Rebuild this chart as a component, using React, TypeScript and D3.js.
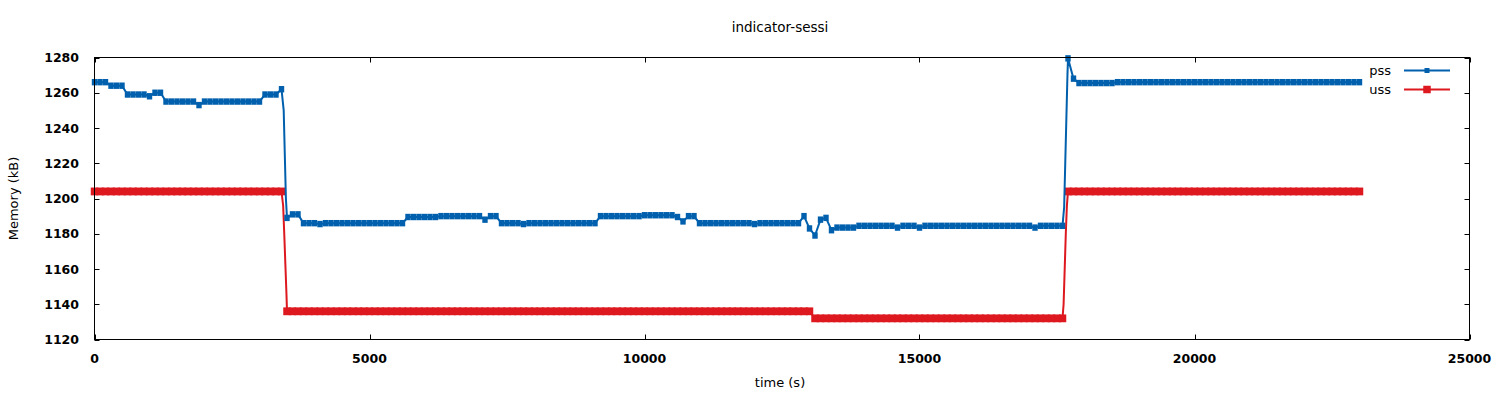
import React from "react";
import * as d3 from "d3";

// ---- data (sampled every 100 s) ----
const sampleStep = 100;
const pssValues: number[] = [
  1266, 1266, 1266, 1264, 1264, 1264, 1259, 1259, 1259, 1259,
  1258, 1260, 1260, 1255, 1255, 1255, 1255, 1255, 1255, 1253,
  1255, 1255, 1255, 1255, 1255, 1255, 1255, 1255, 1255, 1255,
  1255, 1259, 1259, 1259, 1262, 1189, 1191, 1191, 1186, 1186,
  1186, 1185.5, 1186, 1186, 1186, 1186, 1186, 1186, 1186, 1186,
  1186, 1186, 1186, 1186, 1186, 1186, 1186, 1189.5, 1189.5, 1189.5,
  1189.5, 1189.5, 1189.5, 1190, 1190, 1190, 1190, 1190, 1190, 1190,
  1190, 1188, 1190, 1190, 1186, 1186, 1186, 1186, 1185.5, 1186,
  1186, 1186, 1186, 1186, 1186, 1186, 1186, 1186, 1186, 1186,
  1186, 1186, 1190, 1190, 1190, 1190, 1190, 1190, 1190, 1190,
  1190.5, 1190.5, 1190.5, 1190.5, 1190.5, 1190.5, 1189.5, 1187, 1190, 1190,
  1186, 1186, 1186, 1186, 1186, 1186, 1186, 1186, 1186, 1186,
  1185.5, 1186, 1186, 1186, 1186, 1186, 1186, 1186, 1186, 1190,
  1183, 1179, 1188, 1189, 1182, 1183.5, 1183.5, 1183.5, 1183.5, 1184.5,
  1184.5, 1184.5, 1184.5, 1184.5, 1184.5, 1184.5, 1183.5, 1184.5, 1184.5, 1184.5,
  1183.5, 1184.5, 1184.5, 1184.5, 1184.5, 1184.5, 1184.5, 1184.5, 1184.5, 1184.5,
  1184.5, 1184.5, 1184.5, 1184.5, 1184.5, 1184.5, 1184.5, 1184.5, 1184.5, 1184.5,
  1184.5, 1183.5, 1184.5, 1184.5, 1184.5, 1184.5, 1184.5, 1279.5, 1268, 1265.5,
  1265.5, 1265.5, 1265.5, 1265.5, 1265.5, 1265.5, 1266, 1266, 1266, 1266,
  1266, 1266, 1266, 1266, 1266, 1266, 1266, 1266, 1266, 1266,
  1266, 1266, 1266, 1266, 1266, 1266, 1266, 1266, 1266, 1266,
  1266, 1266, 1266, 1266, 1266, 1266, 1266, 1266, 1266, 1266,
  1266, 1266, 1266, 1266, 1266, 1266, 1266, 1266, 1266, 1266,
  1266,
];
const ussValues: number[] = [
  1204, 1204, 1204, 1204, 1204, 1204, 1204, 1204, 1204, 1204,
  1204, 1204, 1204, 1204, 1204, 1204, 1204, 1204, 1204, 1204,
  1204, 1204, 1204, 1204, 1204, 1204, 1204, 1204, 1204, 1204,
  1204, 1204, 1204, 1204, 1204, 1136, 1136, 1136, 1136, 1136,
  1136, 1136, 1136, 1136, 1136, 1136, 1136, 1136, 1136, 1136,
  1136, 1136, 1136, 1136, 1136, 1136, 1136, 1136, 1136, 1136,
  1136, 1136, 1136, 1136, 1136, 1136, 1136, 1136, 1136, 1136,
  1136, 1136, 1136, 1136, 1136, 1136, 1136, 1136, 1136, 1136,
  1136, 1136, 1136, 1136, 1136, 1136, 1136, 1136, 1136, 1136,
  1136, 1136, 1136, 1136, 1136, 1136, 1136, 1136, 1136, 1136,
  1136, 1136, 1136, 1136, 1136, 1136, 1136, 1136, 1136, 1136,
  1136, 1136, 1136, 1136, 1136, 1136, 1136, 1136, 1136, 1136,
  1136, 1136, 1136, 1136, 1136, 1136, 1136, 1136, 1136, 1136,
  1136, 1132, 1132, 1132, 1132, 1132, 1132, 1132, 1132, 1132,
  1132, 1132, 1132, 1132, 1132, 1132, 1132, 1132, 1132, 1132,
  1132, 1132, 1132, 1132, 1132, 1132, 1132, 1132, 1132, 1132,
  1132, 1132, 1132, 1132, 1132, 1132, 1132, 1132, 1132, 1132,
  1132, 1132, 1132, 1132, 1132, 1132, 1132, 1204, 1204, 1204,
  1204, 1204, 1204, 1204, 1204, 1204, 1204, 1204, 1204, 1204,
  1204, 1204, 1204, 1204, 1204, 1204, 1204, 1204, 1204, 1204,
  1204, 1204, 1204, 1204, 1204, 1204, 1204, 1204, 1204, 1204,
  1204, 1204, 1204, 1204, 1204, 1204, 1204, 1204, 1204, 1204,
  1204, 1204, 1204, 1204, 1204, 1204, 1204, 1204, 1204, 1204,
  1204,
];
// extra unmarked points during the fast transitions
const pssTransTimes = [3440, 3460, 3480, 17630, 17650, 17670, 17690];
const pssTransValues = [1250, 1225, 1200, 1195, 1220, 1245, 1270];
const ussTransTimes = [3430, 3450, 3470, 3490, 17620, 17640, 17660, 17680];
const ussTransValues = [1196, 1180, 1163, 1146, 1140, 1160, 1180, 1196];

const xTicks = [0, 5000, 10000, 15000, 20000, 25000];
const yTicks = [1120, 1140, 1160, 1180, 1200, 1220, 1240, 1260, 1280];

const title = "indicator-sessi";
const xLabel = "time (s)";
const yLabel = "Memory (kB)";
const seriesNames = ["pss", "uss"];
const colors = ["#0060ad", "#dd181f"];

type Pt = { t: number; v: number };

function buildSeries(values: number[], tt: number[], tv: number[]) {
  const marked: Pt[] = values.map((v, i) => ({ t: i * sampleStep, v }));
  const extra: Pt[] = tt.map((t, i) => ({ t, v: tv[i] }));
  const all = [...marked, ...extra].sort((a, b) => a.t - b.t);
  return { marked, all };
}

export default function App() {
  const W = 1500, H = 400;
  const left = 94.5, right = 1469.5, top = 57.5, bottom = 339.5;
  const x = d3.scaleLinear().domain([0, 25000]).range([left, right]);
  const y = d3.scaleLinear().domain([1120, 1280]).range([bottom, top]);

  const pss = buildSeries(pssValues, pssTransTimes, pssTransValues);
  const uss = buildSeries(ussValues, ussTransTimes, ussTransValues);

  const line = d3
    .line<Pt>()
    .x((d) => x(d.t))
    .y((d) => y(d.v));

  const font = "'DejaVu Sans', sans-serif";
  const tickLen = 5;
  const pw = 5.4, ph = 6.4;

  return (
    <svg
      width={W}
      height={H}
      style={{ position: "absolute", left: 0, top: 0, background: "#fff" }}
    >
      <rect x={0} y={0} width={W} height={H} fill="#fff" />
      {/* title */}
      <text x={780} y={32} textAnchor="middle" fontFamily={font} fontSize={13.5} fill="#000">
        {title}
      </text>

      {/* y ticks */}
      {yTicks.map((t) => (
        <g key={"y" + t}>
          <line x1={left} x2={left + tickLen} y1={Math.round(y(t)) + 0.5} y2={Math.round(y(t)) + 0.5} stroke="#000" />
          <line x1={right} x2={right - tickLen} y1={Math.round(y(t)) + 0.5} y2={Math.round(y(t)) + 0.5} stroke="#000" />
          <text
            x={79}
            y={y(t)}
            dy="0.36em"
            textAnchor="end"
            fontFamily={font}
            fontWeight="bold"
            fontSize={12.5}
            fill="#000"
          >
            {t}
          </text>
        </g>
      ))}
      {/* x ticks */}
      {xTicks.map((t) => (
        <g key={"x" + t}>
          <line x1={Math.round(x(t)) + 0.5} x2={Math.round(x(t)) + 0.5} y1={bottom} y2={bottom - tickLen} stroke="#000" />
          <line x1={Math.round(x(t)) + 0.5} x2={Math.round(x(t)) + 0.5} y1={top} y2={top + tickLen} stroke="#000" />
          <text
            x={x(t)}
            y={362.5}
            textAnchor="middle"
            fontFamily={font}
            fontWeight="bold"
            fontSize={12.5}
            fill="#000"
          >
            {t}
          </text>
        </g>
      ))}

      {/* series */}
      <g>
        <path d={line(uss.all) || ""} fill="none" stroke={colors[1]} strokeWidth={2} />
        {uss.marked.map((d, i) => (
          <rect key={"u" + i} x={x(d.t) - 3.75} y={y(d.v) - 3.9} width={7.5} height={7.8} fill={colors[1]} />
        ))}
        <path d={line(pss.all) || ""} fill="none" stroke={colors[0]} strokeWidth={2} />
        {pss.marked.map((d, i) => (
          <rect key={"p" + i} x={x(d.t) - pw / 2} y={y(d.v) - ph / 2} width={pw} height={ph} fill={colors[0]} />
        ))}
      </g>

      {/* border */}
      <rect x={left} y={top} width={right - left} height={bottom - top} fill="none" stroke="#000" strokeWidth={1} shapeRendering="crispEdges" />

      {/* axis labels */}
      <text x={780} y={387} textAnchor="middle" fontFamily={font} fontSize={13} fill="#000">
        {xLabel}
      </text>
      <text
        transform={`translate(18, ${(top + bottom) / 2}) rotate(-90)`}
        textAnchor="middle"
        fontFamily={font}
        fontSize={13}
        fill="#000"
      >
        {yLabel}
      </text>

      {/* legend */}
      {seriesNames.map((name, i) => {
        const ly = 70.5 + i * 19;
        return (
          <g key={name}>
            <text x={1391} y={ly} dy="0.33em" textAnchor="end" fontFamily={font} fontSize={13} fill="#000">
              {name}
            </text>
            <line x1={1404} x2={1450} y1={ly} y2={ly} stroke={colors[i]} strokeWidth={2} />
            {i === 0 ? (
              <rect x={1427 - 2.5} y={ly - 2.5} width={5} height={5} fill={colors[i]} />
            ) : (
              <rect x={1427 - 3.75} y={ly - 3.75} width={7.5} height={7.5} fill={colors[i]} />
            )}
          </g>
        );
      })}
    </svg>
  );
}
